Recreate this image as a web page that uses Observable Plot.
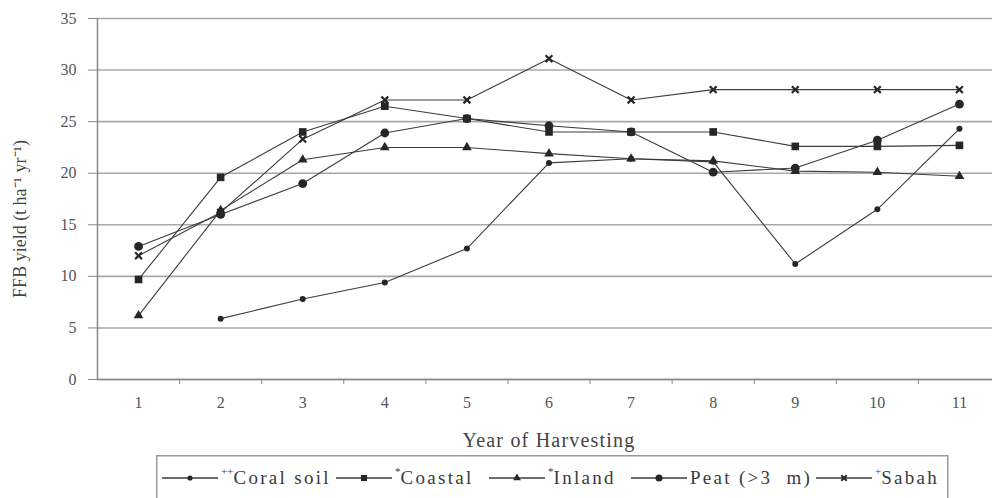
<!DOCTYPE html>
<html><head><meta charset="utf-8">
<script src="https://cdn.jsdelivr.net/npm/d3@7"></script>
<script src="https://cdn.jsdelivr.net/npm/@observablehq/plot@0.6"></script>
<style>
html,body{margin:0;padding:0;background:#fff;}
body{width:992px;height:498px;overflow:hidden;position:relative;}
#chart svg{display:block;}
#legend{position:absolute;left:156px;top:455px;}
#legend svg{display:block;overflow:visible;}
</style></head><body>
<div id="chart"></div>
<div id="legend"></div>
<script>
// Categories
const years = [1, 2, 3, 4, 5, 6, 7, 8, 9, 10, 11];
const yTicks = [0, 5, 10, 15, 20, 25, 30, 35];
// Series values (t ha-1 yr-1), null = no data
const coralSoil = [null, 5.9, 7.8, 9.4, 12.7, 21.0, 21.4, 21.1, 11.2, 16.5, 24.3];
const coastal   = [9.7, 19.6, 24.0, 26.5, 25.3, 24.0, 24.0, 24.0, 22.6, 22.6, 22.7];
const inland    = [6.2, 16.4, 21.3, 22.5, 22.5, 21.9, 21.4, 21.2, 20.2, 20.1, 19.7];
const peat      = [12.9, 16.0, 19.0, 23.9, 25.3, 24.6, 24.0, 20.1, 20.5, 23.2, 26.7];
const sabah     = [12.0, 16.2, 23.3, 27.1, 27.1, 31.1, 27.1, 28.1, 28.1, 28.1, 28.1];
// Labels
const seriesNames = ["Coral soil", "Coastal", "Inland", "Peat (>3  m)", "Sabah"];
const seriesSup = ["++", "*", "*", "", "+"];
const xLabel = "Year of Harvesting";
const yLabel = "FFB yield (t ha\u207B\u00B9 yr\u207B\u00B9)";

const seriesValues = [coralSoil, coastal, inland, peat, sabah];
const symbols = ["circle", "square", "triangle", "circle", "times"];
const radii = [3, 4.3, 3.6, 4.4, 3.2];

const data = seriesNames.flatMap((name, k) =>
  years.map((yr, i) => ({series: name, k, year: yr, value: seriesValues[k][i]}))
       .filter(d => d.value != null));
const boundaries = years.slice(1).map(d => d - 0.5);

const ink = "#262626";
const lineInk = "#3c3c3c";
const serif = "Liberation Serif, Times New Roman, serif";
const plot = Plot.plot({
  width: 992, height: 452,
  marginLeft: 97, marginRight: -8, marginTop: 18, marginBottom: 73,
  style: {fontFamily: serif, fontSize: "16px", color: "#444", background: "#fff", overflow: "visible"},
  x: {domain: [0.5, 11.5]},
  y: {domain: [0, 35]},
  marks: [
    Plot.gridY(yTicks, {stroke: "#a8a8a8", strokeOpacity: 1, strokeWidth: 1.6}),
    Plot.ruleX([0.5], {stroke: "#888", strokeWidth: 1.5}),
    Plot.ruleY([0], {stroke: "#888", strokeWidth: 1.5}),
    Plot.axisY(yTicks, {tickSize: 9, tickPadding: 12, label: null, stroke: "#888", fontSize: 16, letterSpacing: 2.5, fill: "#555"}),
    Plot.axisX(years, {tickSize: 0, tickPadding: 17, label: xLabel, labelAnchor: "center", labelArrow: "none", labelOffset: 67, fontSize: 16, letterSpacing: 1, fill: "#555"}),
    Plot.axisX(boundaries, {tickSize: 5, tickFormat: () => "", label: null, stroke: "#888"}),
    Plot.line(data, {x: "year", y: "value", z: "series", stroke: lineInk, strokeWidth: 1.1}),
    ...seriesNames.map((name, k) => Plot.dot(data.filter(d => d.k === k), {
      x: "year", y: "value", symbol: symbols[k], r: radii[k],
      ...(symbols[k] === "times" ? {stroke: ink, strokeWidth: 2.2, fill: "none"} : {fill: ink, stroke: "none"})
    })),
    Plot.text([yLabel], {frameAnchor: "left", textAnchor: "middle", dx: -77, dy: 20, rotate: -90, fontSize: 18, letterSpacing: 1, fill: "#444"})
  ]
});
document.getElementById("chart").appendChild(plot);
// x-axis title styling (larger, spaced)
d3.select(plot).selectAll("text").filter(function() { return this.textContent === xLabel; })
  .attr("font-size", 20).attr("letter-spacing", 1.2).attr("fill", "#444");

// Legend (SVG)
const legendLeft = [6, 180, 333, 475, 660];
const lsvg = d3.select("#legend").append("svg").attr("width", 793).attr("height", 45)
  .attr("font-family", serif).attr("font-size", 19).attr("letter-spacing", 2.3).attr("fill", "#3a3a3a");
lsvg.append("rect").attr("x", 0.75).attr("y", 0.75).attr("width", 791).attr("height", 50)
  .attr("fill", "none").attr("stroke", "#9a9a9a").attr("stroke-width", 1.5);
seriesNames.forEach((name, k) => {
  const g = lsvg.append("g").attr("transform", `translate(${legendLeft[k]},23)`);
  g.append("line").attr("x1", 0).attr("x2", 56).attr("stroke", lineInk).attr("stroke-width", 1.3);
  const sym = {square: d3.symbolSquare, triangle: d3.symbolTriangle, circle: d3.symbolCircle, times: d3.symbolTimes}[symbols[k]];
  const r = k === 0 ? 2.6 : radii[k] * 0.8;
  const p = g.append("path").attr("transform", "translate(28,0)").attr("d", d3.symbol(sym, Math.PI * r * r)());
  if (symbols[k] === "times") p.attr("fill", "none").attr("stroke", ink).attr("stroke-width", 2);
  else p.attr("fill", ink);
  const t = g.append("text").attr("x", 59).attr("y", 6).attr("xml:space", "preserve");
  if (seriesSup[k]) t.append("tspan").attr("font-size", 11).attr("dy", -9).attr("letter-spacing", 0).text(seriesSup[k]);
  t.append("tspan").attr("dy", seriesSup[k] ? 9 : 0).text(name);
});
</script>
</body></html>
